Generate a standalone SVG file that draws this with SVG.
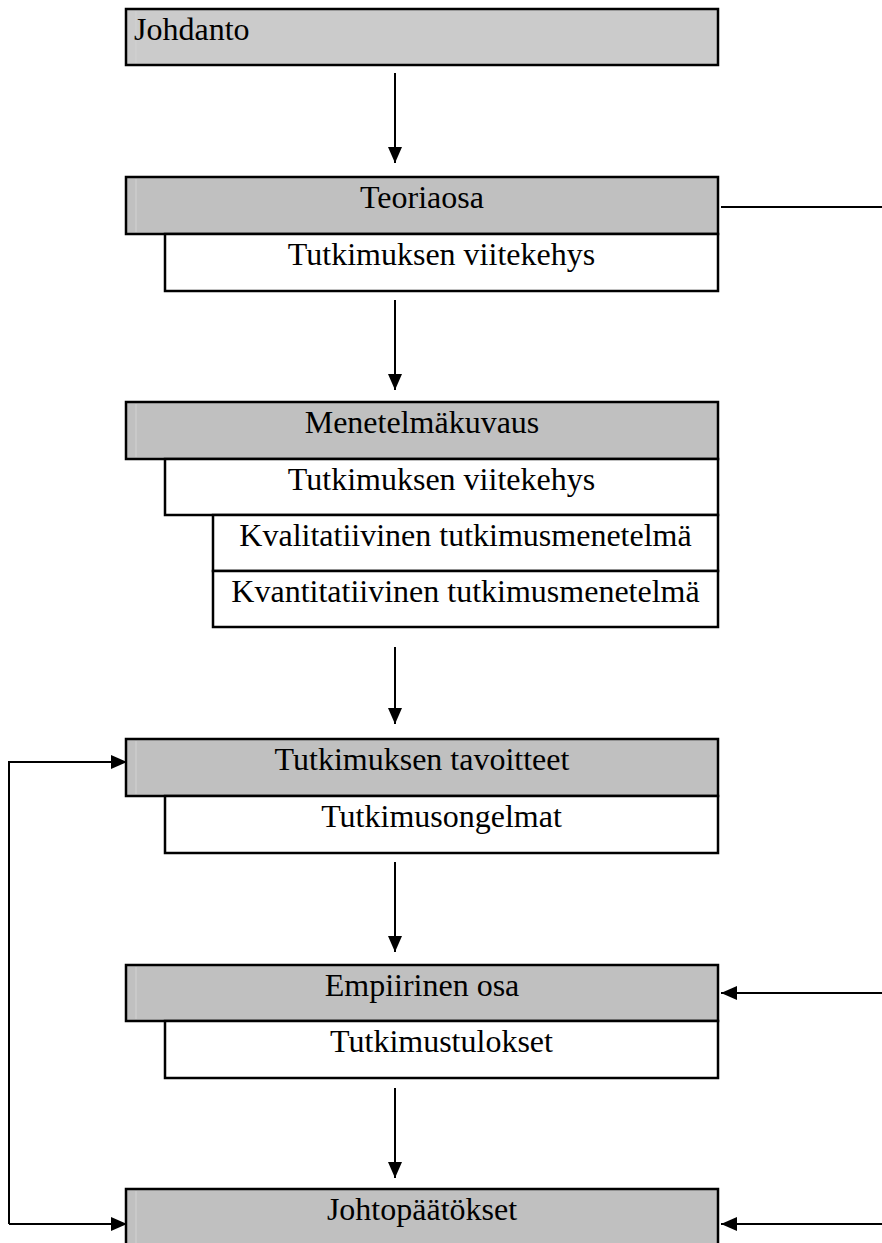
<svg xmlns="http://www.w3.org/2000/svg" width="882" height="1243" viewBox="0 0 882 1243">
  <style>
    .head { fill: #c0c0c0; stroke: #000; stroke-width: 2.5; }
    .intro { fill: #cbcbcb; stroke: #000; stroke-width: 2.5; }
    .sub { fill: #fff; stroke: #000; stroke-width: 2.5; }
    .sheen { stroke: #d2d2d2; stroke-width: 1; }
    .lbl { font-family: "Liberation Serif", "Times New Roman", serif; font-size: 32px; fill: #000; }
    .mid { text-anchor: middle; }
    .wire { fill: none; stroke: #000; stroke-width: 2; }
  </style>
  <defs>
    <marker id="tip" viewBox="0 0 16 14" refX="16" refY="7" markerWidth="16" markerHeight="14" markerUnits="userSpaceOnUse" orient="auto">
      <path d="M0,0 L16,7 L0,14 Z" fill="#000"/>
    </marker>
  </defs>

  <rect width="882" height="1243" fill="#fff"/>

  <g id="johdanto">
    <rect class="intro" x="126" y="9" width="592" height="56"/>
    <line class="sheen" x1="136" y1="11" x2="136" y2="63"/>
    <text class="lbl" x="134" y="40">Johdanto</text>
  </g>

  <g id="teoriaosa">
    <rect class="head" x="126" y="177" width="592" height="57"/>
    <line class="sheen" x1="136" y1="179" x2="136" y2="232"/>
    <text class="lbl mid" x="422" y="208">Teoriaosa</text>
    <rect class="sub" x="165" y="234" width="553" height="57"/>
    <text class="lbl mid" x="441.5" y="265">Tutkimuksen viitekehys</text>
  </g>

  <g id="menetelmakuvaus">
    <rect class="head" x="126" y="402" width="592" height="57"/>
    <line class="sheen" x1="136" y1="404" x2="136" y2="457"/>
    <text class="lbl mid" x="422" y="433">Menetelmäkuvaus</text>
    <rect class="sub" x="165" y="459" width="553" height="56"/>
    <text class="lbl mid" x="441.5" y="490">Tutkimuksen viitekehys</text>
    <rect class="sub" x="213" y="515" width="505" height="56"/>
    <text class="lbl mid" x="465.5" y="546">Kvalitatiivinen tutkimusmenetelmä</text>
    <rect class="sub" x="213" y="571" width="505" height="56"/>
    <text class="lbl mid" x="465.5" y="602">Kvantitatiivinen tutkimusmenetelmä</text>
  </g>

  <g id="tavoitteet">
    <rect class="head" x="126" y="739" width="592" height="57"/>
    <line class="sheen" x1="136" y1="741" x2="136" y2="794"/>
    <text class="lbl mid" x="422" y="770">Tutkimuksen tavoitteet</text>
    <rect class="sub" x="165" y="796" width="553" height="57"/>
    <text class="lbl mid" x="441.5" y="827">Tutkimusongelmat</text>
  </g>

  <g id="empiirinen">
    <rect class="head" x="126" y="965" width="592" height="56"/>
    <line class="sheen" x1="136" y1="967" x2="136" y2="1019"/>
    <text class="lbl mid" x="422" y="996">Empiirinen osa</text>
    <rect class="sub" x="165" y="1021" width="553" height="57"/>
    <text class="lbl mid" x="441.5" y="1052">Tutkimustulokset</text>
  </g>

  <g id="johtopaatokset">
    <rect class="head" x="126" y="1189" width="592" height="70"/>
    <line class="sheen" x1="136" y1="1191" x2="136" y2="1243"/>
    <text class="lbl mid" x="422" y="1220">Johtopäätökset</text>
  </g>

  <g id="connectors">
    <line class="wire" x1="395" y1="73" x2="395" y2="163" marker-end="url(#tip)"/>
    <line class="wire" x1="395" y1="300" x2="395" y2="390" marker-end="url(#tip)"/>
    <line class="wire" x1="395" y1="647" x2="395" y2="724" marker-end="url(#tip)"/>
    <line class="wire" x1="395" y1="862" x2="395" y2="952" marker-end="url(#tip)"/>
    <line class="wire" x1="395" y1="1088" x2="395" y2="1178" marker-end="url(#tip)"/>
    <line class="wire" x1="721" y1="207" x2="882" y2="207"/>
    <line class="wire" x1="882" y1="993" x2="721" y2="993" marker-end="url(#tip)"/>
    <line class="wire" x1="882" y1="1224" x2="721" y2="1224" marker-end="url(#tip)"/>
    <polyline class="wire" points="9,1224 9,762 127,762" marker-end="url(#tip)"/>
    <line class="wire" x1="9" y1="1224" x2="127" y2="1224" marker-end="url(#tip)"/>
  </g>
</svg>
